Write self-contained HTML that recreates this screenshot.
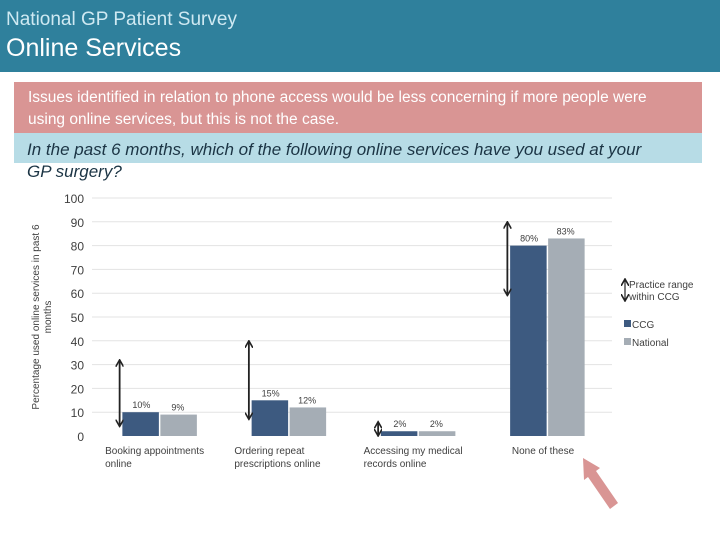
<!DOCTYPE html>
<html><head><meta charset="utf-8"><style>
body{margin:0;width:720px;height:540px;background:#fff;position:relative;overflow:hidden;font-family:"Liberation Sans",sans-serif}
#hdr{position:absolute;left:0;top:0;width:720px;height:72px;background:#2f809c}
#t1{position:absolute;left:6px;top:9px;font-size:19px;color:#cfe9f2}
#t2{position:absolute;left:6px;top:34px;font-size:25px;color:#fff}
#pink{position:absolute;left:14px;top:82px;width:688px;height:51px;background:#d99594}
#pink div{position:absolute;left:14px;top:5px;width:645px;font-family:"Liberation Sans Narrow","Liberation Sans",sans-serif;font-size:15.5px;line-height:22px;color:#fff}
#blue{position:absolute;left:14px;top:133px;width:688px;height:30px;background:#b7dce6}
#q{position:absolute;left:27px;top:139px;width:642px;font-style:italic;font-size:17px;line-height:22px;color:#1b3444}
svg{position:absolute;left:0;top:0}
</style></head><body>
<div id="hdr">
<div id="t1">National GP Patient Survey</div>
<div id="t2">Online Services</div></div>
<div id="pink"><div>Issues identified in relation to phone access would be less concerning if more people were using online services, but this is not the case.</div></div>
<div id="blue"></div>
<div id="q">In the past 6 months, which of the following online services have you used at your GP surgery?</div>
<svg id="chart" width="720" height="540"></svg>
<script>
const categories=[["Booking appointments","online"],["Ordering repeat","prescriptions online"],["Accessing my medical","records online"],["None of these"]];
const ccg=[10,15,2,80];
const national=[9,12,2,83];
const rangeLow=[4,7,0,59];
const rangeHigh=[32,40,6,90];
const ticks=[0,10,20,30,40,50,60,70,80,90,100];
const NS="http://www.w3.org/2000/svg";
const svg=document.getElementById('chart');
const X0=95,X1=612,Y0=436,Y100=198;
const y=v=>Y0-(Y0-Y100)*v/100;
const bw=(X1-X0)/categories.length;
const cx=i=>X0+bw*(i+0.5);
function mk(t,a,p){const e=document.createElementNS(NS,t);for(const k in a)e.setAttribute(k,a[k]);(p||svg).appendChild(e);return e;}
const defs=mk('defs',{});
const m=mk('marker',{id:'ah',markerWidth:8,markerHeight:8,refX:6,refY:4,orient:'auto-start-reverse',markerUnits:'userSpaceOnUse'},defs);
mk('path',{d:'M0,0 L7,4 L0,8',fill:'none',stroke:'#222','stroke-width':1.6},m);
ticks.forEach(t=>{
 if(t>0){const g=mk('line',{x1:X0-3,x2:X1,y1:y(t),y2:y(t),stroke:'#e3e3e3','stroke-width':1});
 }
 const l=mk('text',{x:84,y:y(t)+5,'text-anchor':'end','font-size':12,fill:'#404040'});l.textContent=t;
 
 
});
const yt=mk('text',{transform:'translate(39,317) rotate(-90)','text-anchor':'middle','font-size':10,fill:'#404040'});


const ts1=mk('tspan',{x:0,dy:0},yt);ts1.textContent='Percentage used online services in past 6';
const ts2=mk('tspan',{x:0,dy:12},yt);ts2.textContent='months';
const BW=36.5;
categories.forEach((c,i)=>{
 const x=cx(i);
 const b1=mk('rect',{x:x-BW-0.75,y:y(ccg[i]),width:BW,height:Y0-y(ccg[i]),fill:'#3d5a80'});
 
 
 const b2=mk('rect',{x:x+0.75,y:y(national[i]),width:BW,height:Y0-y(national[i]),fill:'#a5adb5'});
 
 
 const v1=mk('text',{x:x-BW/2,y:y(ccg[i])-4,'text-anchor':'middle','font-size':9,fill:'#404040'});v1.textContent=ccg[i]+'%';
 
 
 const v2=mk('text',{x:x+BW/2,y:y(national[i])-4,'text-anchor':'middle','font-size':9,fill:'#404040'});v2.textContent=national[i]+'%';
 
 
 const ax=x-BW-3.5;
 const r=mk('line',{x1:ax,x2:ax,y1:y(rangeLow[i])-1,y2:y(rangeHigh[i])+1,stroke:'#222','stroke-width':1.8,'marker-start':'url(#ah)','marker-end':'url(#ah)'});
 
 
 const lb=mk('text',{x:x-BW-20+(i==3?20:0),y:454,'font-size':10,fill:'#404040'});
 
 
 c.forEach((s,j)=>{const t=mk('tspan',{x:(i==3?x-BW+1:x-BW-18),dy:j?13:0},lb);t.textContent=s;});
});
const lg=mk('g',{});


mk('line',{x1:625,x2:625,y1:280,y2:300,stroke:'#222','stroke-width':1.2,'marker-start':'url(#ah)','marker-end':'url(#ah)'},lg);
const l1=mk('text',{x:629,y:288,'font-size':10,fill:'#404040'},lg);l1.textContent='Practice range';
const l2=mk('text',{x:629,y:300,'font-size':10,fill:'#404040'},lg);l2.textContent='within CCG';
mk('rect',{x:624,y:320,width:7,height:7,fill:'#3d5a80'},lg);
const l3=mk('text',{x:632,y:328,'font-size':10,fill:'#404040'},lg);l3.textContent='CCG';
mk('rect',{x:624,y:338,width:7,height:7,fill:'#a5adb5'},lg);
const l4=mk('text',{x:632,y:346,'font-size':10,fill:'#404040'},lg);l4.textContent='National';
const pa=mk('polygon',{points:'583,458 600,468 596,471 618,503 610,509 588,477 584,480',fill:'#d99594'});


</script>
</body></html>
